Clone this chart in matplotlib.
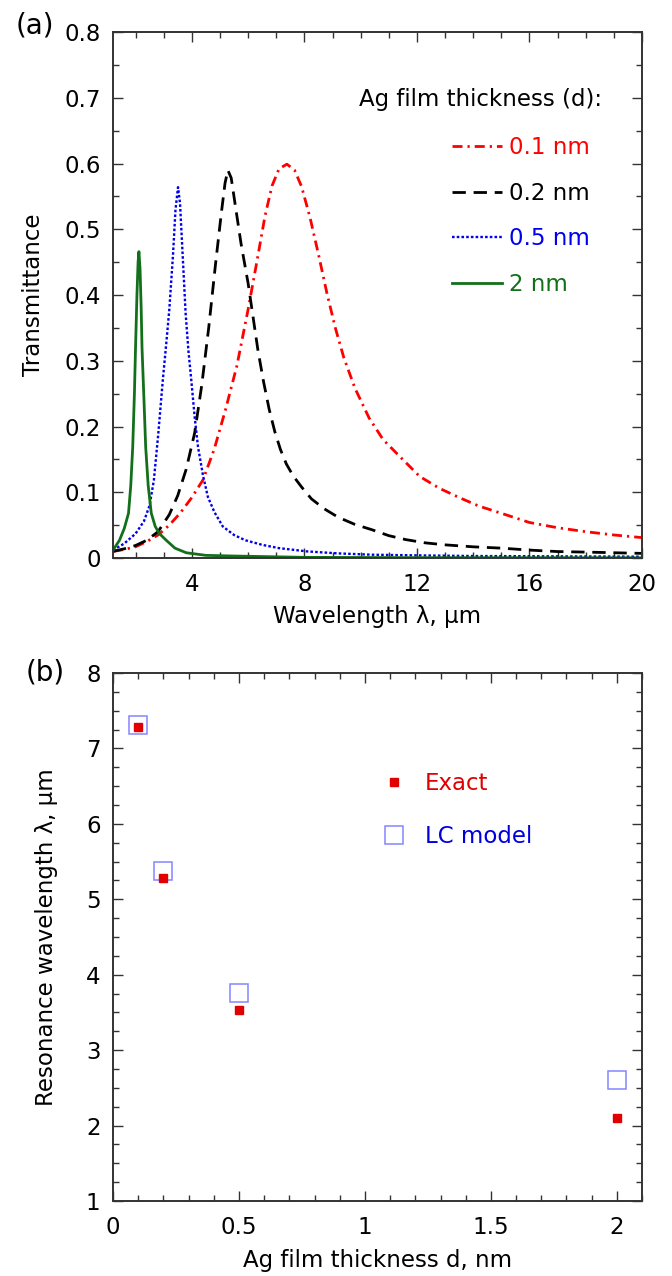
import numpy as np
import matplotlib
matplotlib.use("Agg")
import matplotlib.pyplot as plt
from matplotlib.ticker import MultipleLocator, FormatStrFormatter

plt.rcParams['font.family'] = ['DejaVu Sans']
FS = 16.5

# panel (a): transmittance curves
wl_01 = [1.2, 1.6, 2.0, 2.4, 2.8, 3.2, 3.6, 4.0, 4.4, 4.8, 5.2, 5.6, 6.0, 6.3, 6.6, 6.85,
         7.1, 7.38, 7.65, 7.9, 8.2, 8.5, 8.8, 9.1, 9.4, 9.8, 10.3, 10.8, 11.4, 12.1, 12.8,
         13.5, 14.2, 15.0, 16.0, 17.0, 18.0, 19.0, 20.0]
tr_01 = [0.010, 0.013, 0.017, 0.025, 0.035, 0.050, 0.069, 0.092, 0.119, 0.166, 0.226, 0.292,
         0.378, 0.448, 0.520, 0.566, 0.592, 0.599, 0.590, 0.565, 0.518, 0.462, 0.403, 0.350,
         0.305, 0.258, 0.213, 0.180, 0.154, 0.124, 0.106, 0.092, 0.079, 0.068, 0.054, 0.046,
         0.040, 0.035, 0.031]

wl_02 = [1.2, 1.6, 2.0, 2.4, 2.8, 3.2, 3.5, 3.8, 4.1, 4.35, 4.6, 4.85, 5.05, 5.18, 5.28,
         5.4, 5.55, 5.75, 6.0, 6.35, 6.55, 6.75, 6.95, 7.15, 7.36, 7.6, 7.9, 8.25, 8.7, 9.2,
         9.8, 10.4, 11.0, 11.6, 12.3, 13.0, 14.0, 15.0, 16.0, 17.0, 18.5, 20.0]
tr_02 = [0.010, 0.014, 0.019, 0.027, 0.040, 0.066, 0.095, 0.135, 0.190, 0.262, 0.350, 0.450,
         0.525, 0.570, 0.590, 0.578, 0.535, 0.478, 0.418, 0.316, 0.268, 0.226, 0.192, 0.165,
         0.143, 0.125, 0.108, 0.090, 0.075, 0.062, 0.051, 0.043, 0.034, 0.028, 0.023, 0.020,
         0.017, 0.015, 0.012, 0.0098, 0.0085, 0.007]

wl_05 = [1.2, 1.6, 2.0, 2.3, 2.5, 2.65, 2.8, 2.97, 3.1, 3.2, 3.33, 3.42, 3.51, 3.58, 3.66,
         3.78, 3.88, 3.98, 4.1, 4.22, 4.4, 4.57, 4.8, 5.1, 5.5, 5.9, 6.5, 7.1, 8.1, 9.2,
         10.4, 12.0, 14.0, 17.0, 20.0]
tr_05 = [0.012, 0.022, 0.037, 0.056, 0.080, 0.118, 0.185, 0.271, 0.330, 0.378, 0.460, 0.530,
         0.564, 0.540, 0.473, 0.372, 0.315, 0.271, 0.215, 0.169, 0.125, 0.093, 0.070, 0.048,
         0.035, 0.027, 0.020, 0.015, 0.010, 0.007, 0.005, 0.004, 0.003, 0.0025, 0.002]

wl_2 = [1.2, 1.43, 1.6, 1.75, 1.83, 1.9, 1.96, 2.0, 2.05, 2.09, 2.12, 2.16, 2.2, 2.23, 2.3,
        2.36, 2.45, 2.56, 2.7, 2.85, 3.09, 3.4, 3.8, 4.5, 5.5, 8.0, 12.0, 20.0]
tr_2 = [0.012, 0.027, 0.045, 0.068, 0.110, 0.169, 0.250, 0.320, 0.400, 0.450, 0.466, 0.440,
        0.380, 0.320, 0.240, 0.169, 0.110, 0.068, 0.048, 0.037, 0.027, 0.015, 0.008, 0.004,
        0.003, 0.001, 0.0005, 0.0002]

# panel (b): resonance wavelength vs thickness
thickness = [0.1, 0.2, 0.5, 2.0]
exact = [7.29, 5.28, 3.53, 2.10]
lc_model = [7.31, 5.38, 3.76, 2.60]

spine_col = '#333333'
green = '#12701a'

fig = plt.figure(figsize=(6.72, 12.76), dpi=100)
ax1 = fig.add_axes([0.1682, 0.5627, 0.7872, 0.4122])
ax2 = fig.add_axes([0.1682, 0.0588, 0.7872, 0.4138])

for ax in (ax1, ax2):
    for s in ax.spines.values():
        s.set_linewidth(1.4)
        s.set_color(spine_col)
    ax.tick_params(which='both', direction='in', top=True, right=True,
                   color=spine_col, width=1.0, labelsize=FS)
    ax.tick_params(which='major', length=7.5)
    ax.tick_params(which='minor', length=4.5)
    ax.tick_params(axis='y', which='major', pad=9)
    ax.tick_params(axis='x', which='major', pad=11)

# ---- panel (a)
ax1.plot(wl_01, tr_01, color='red', lw=2.0, ls=(0, (3.6, 1.8, 0.8, 1.8)), label='0.1 nm')
ax1.plot(wl_02, tr_02, color='black', lw=2.0, ls=(0, (4.8, 2.8)), label='0.2 nm')
ax1.plot(wl_05, tr_05, color='#0000ee', lw=1.7, ls=(0, (1.1, 0.9)), label='0.5 nm')
ax1.plot(wl_2, tr_2, color=green, lw=2.0, label='2 nm')

ax1.set_xlim(1.2, 20)
ax1.set_ylim(0, 0.8)
ax1.xaxis.set_major_locator(MultipleLocator(4))
ax1.xaxis.set_minor_locator(MultipleLocator(1))
ax1.yaxis.set_major_locator(MultipleLocator(0.1))
ax1.yaxis.set_minor_locator(MultipleLocator(0.05))
ax1.yaxis.set_major_formatter(FormatStrFormatter('%g'))
ax1.set_xlabel('Wavelength λ, μm', fontsize=FS, labelpad=6)
ax1.set_ylabel('Transmittance', fontsize=FS, labelpad=14)

ax1.text(0.924, 0.871, 'Ag film thickness (d):', transform=ax1.transAxes,
         ha='right', va='center', fontsize=FS)
ax1.legend(loc='upper left', bbox_to_anchor=(0.64, 0.803), frameon=False,
           borderpad=0, borderaxespad=0, handlelength=2.2, handletextpad=0.3,
           labelspacing=1.0, fontsize=FS, labelcolor='linecolor')

ax1.text(-0.185, 1.013, '(a)', transform=ax1.transAxes, ha='left', va='center', fontsize=20)

# ---- panel (b)
ax2.plot(thickness, exact, ls='none', marker='s', ms=6, color='#e00000',
         mec='#e00000', label='Exact', zorder=3)
ax2.plot(thickness, lc_model, ls='none', marker='s', ms=13, mfc='none',
         mec='#8585ff', mew=1.1, label='LC model', zorder=2)

ax2.set_xlim(0, 2.1)
ax2.set_ylim(1, 8)
ax2.xaxis.set_major_locator(MultipleLocator(0.5))
ax2.xaxis.set_minor_locator(MultipleLocator(0.1))
ax2.yaxis.set_major_locator(MultipleLocator(1))
ax2.yaxis.set_minor_locator(MultipleLocator(0.25))
ax2.xaxis.set_major_formatter(FormatStrFormatter('%g'))
ax2.set_xlabel('Ag film thickness d, nm', fontsize=FS, labelpad=7)
ax2.set_ylabel('Resonance wavelength λ, μm', fontsize=FS, labelpad=20)

ax2.legend(loc='upper left', bbox_to_anchor=(0.509, 0.8125), frameon=False,
           borderpad=0, borderaxespad=0, handlelength=1.0, handletextpad=0.86,
           labelspacing=1.32, fontsize=FS, labelcolor=['#e00000', '#0000dd'])

ax2.text(-0.165, 1.0, '(b)', transform=ax2.transAxes, ha='left', va='center', fontsize=20)

fig.savefig('out.png', dpi=100)
